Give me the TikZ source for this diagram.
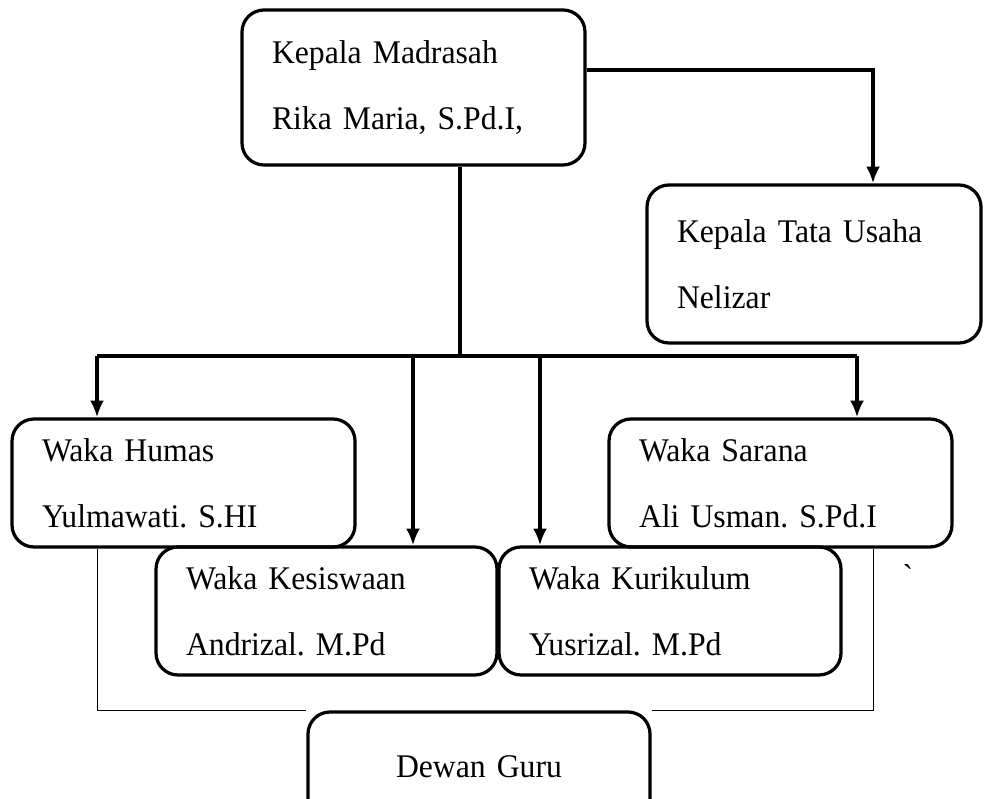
\documentclass[tikz,border=0pt]{standalone}
\usepackage{fontspec}
\setmainfont[FakeStretch=0.96]{Liberation Serif}
\usetikzlibrary{arrows.meta, calc, positioning}
\frenchspacing

\tikzset{
	unit/.style={draw, line width=2.3pt, rounded corners=0.55cm, inner xsep=0.75cm, inner ysep=0pt, minimum height=3.2cm, font=\fontsize{23.5}{47}\selectfont},
	link/.style={line width=2.3pt, -{Latex[length=0.42cm, width=0.35cm]}},
	trunk/.style={line width=2.3pt},
	thinlink/.style={line width=0.7pt}
}

\begin{document}
\begin{tikzpicture}
	\useasboundingbox (0,0) rectangle (24.6,19.95);
	
	% head and administration
	\node [unit, text width=7.075cm, minimum width=8.575cm, minimum height=3.875cm] (kepala) at (10.3375,17.7625) {Kepala Madrasah\\Rika Maria, S.Pd.I,};
	\node [unit, text width=6.85cm, minimum width=8.35cm, minimum height=3.95cm] (tatausaha) at (20.35,13.35) {Kepala Tata Usaha\\Nelizar};
	
	% vice heads
	\node [unit, text width=7.075cm, minimum width=8.575cm] (humas) at (4.5875,7.875) {Waka Humas\\Yulmawati. S.HI};
	\node [unit, text width=7.075cm, minimum width=8.575cm] (sarana) at (19.5125,7.875) {Waka Sarana\\Ali Usman. S.Pd.I};
	\node [unit, text width=7.025cm, minimum width=8.525cm] (kesiswaan) at (8.1625,4.675) {Waka Kesiswaan\\Andrizal. M.Pd};
	\node [unit, text width=7.05cm, minimum width=8.55cm] (kurikulum) at (16.75,4.675) {Waka Kurikulum\\Yusrizal. M.Pd};
	
	% teachers
	\node [unit, align=center, text width=7.05cm, minimum width=8.55cm, minimum height=2.75cm] (dewan) at (11.975,0.775) {Dewan Guru};
	\node (tick) at (22.7,5.55) {\fontsize{23.5}{27}\selectfont\textasciigrave};
	
	\draw [link] ([yshift=0.44cm]kepala.east) -| ([xshift=1.475cm]tatausaha.north);
	
	% trunk and branches
	\coordinate (bus) at (11.5,11.05);
	\draw [trunk] ([xshift=1.1625cm]kepala.south) -- (bus);
	\foreach \unitname/\dx in {humas/-2.1625, kesiswaan/2.1625, kurikulum/-3.25, sarana/1.9125} {
		\coordinate (top\unitname) at ([xshift=\dx cm]\unitname.north);
		\draw [link] (top\unitname |- bus) -- (top\unitname);
	}
	\draw [trunk] (tophumas |- bus) -- (topsarana |- bus);
	
	\draw [thinlink] ([xshift=-2.1625cm]humas.south) |- (dewan.north west);
	\draw [thinlink] ([xshift=2.3125cm]sarana.south) |- (dewan.north east);
\end{tikzpicture}
\end{document}
